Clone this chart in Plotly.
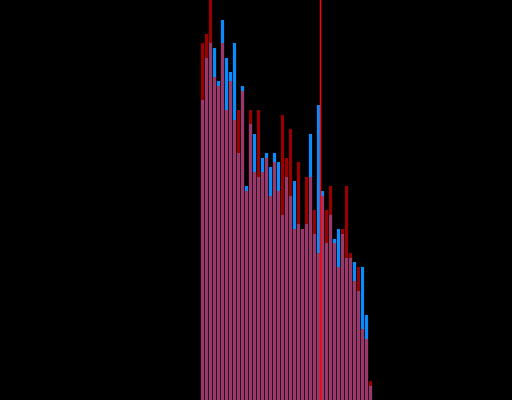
import plotly.graph_objects as go

# bin index for each bar
bins = list(range(43))

# heights (arbitrary units, 0 at the bottom edge)
blue_counts = [300, 342, 357, 352, 319, 380, 342, 328, 357, 247, 314, 214, 276, 266, 223,
               242, 247, 233, 247, 238, 185, 223, 204, 219, 176, 171, 176, 266, 166, 295,
               209, 157, 185, 161, 171, 166, 142, 142, 138, 109, 133, 85, 14]
red_counts = [357, 366, 410, 323, 314, 357, 290, 319, 280, 290, 309, 209, 290, 228, 290,
              228, 242, 204, 238, 209, 285, 242, 271, 171, 238, 171, 223, 223, 190, 147,
              204, 190, 214, 157, 133, 171, 214, 147, 119, 133, 71, 61, 19]

marker_x = 29.5

fig = go.Figure()
fig.add_trace(go.Bar(x=bins, y=blue_counts, name="blue",
                     marker=dict(color="#0A8CFF", line=dict(width=0))))
fig.add_trace(go.Bar(x=bins, y=red_counts, name="red", opacity=0.6,
                     marker=dict(color="#FF0000", line=dict(width=0))))

fig.add_shape(type="line", x0=marker_x, x1=marker_x, y0=0, y1=1, yref="paper",
              line=dict(color="#FF0000", width=1.5))

fig.update_layout(
    template="none",
    width=512, height=400,
    margin=dict(l=0, r=0, t=0, b=0),
    paper_bgcolor="black", plot_bgcolor="black",
    barmode="overlay", bargap=0.2,
    showlegend=False,
)
fig.update_xaxes(range=[-50.625, 77.375], visible=False)
fig.update_yaxes(range=[0, 400], visible=False)

# page has no margin and a black body, so the chart fills the window
fig.write_html(
    "out.html",
    config={"displayModeBar": False},
    post_script="document.body.style.margin='0';document.body.style.background='black';",
)
